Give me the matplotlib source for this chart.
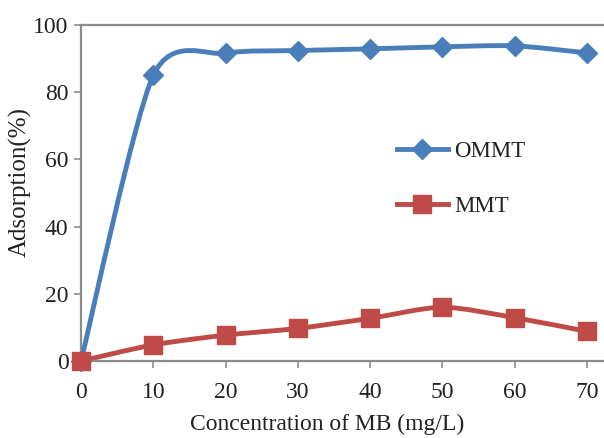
import numpy as np
import matplotlib
matplotlib.use("Agg")
import matplotlib.pyplot as plt
from matplotlib.path import Path
from matplotlib.patches import PathPatch
from matplotlib.lines import Line2D

# MB concentration (mg/L) and adsorption (%)
conc = [0, 10, 20, 30, 40, 50, 60, 70]
ommt = [0, 85.0, 91.6, 92.4, 92.9, 93.5, 93.8, 91.7]
mmt = [0, 4.8, 7.7, 9.7, 12.7, 16.0, 12.9, 8.8]

series_names = ["OMMT", "MMT"]
xticks = [0, 10, 20, 30, 40, 50, 60, 70]
yticks = [0, 20, 40, 60, 80, 100]

BLUE = "#4a7ebb"
RED = "#be4b48"
SPINE = "#8c8c8c"
TEXT = "#222222"

plt.rcParams["font.family"] = ["Liberation Serif", "DejaVu Serif"]


def smooth_path(x, y, k=0.13):
    """Cardinal-spline cubic Bezier path through the points."""
    x = np.asarray(x, float)
    y = np.asarray(y, float)
    n = len(x)
    verts = [(x[0], y[0])]
    codes = [Path.MOVETO]
    for i in range(n - 1):
        p0 = np.array([x[max(i - 1, 0)], y[max(i - 1, 0)]])
        p1 = np.array([x[i], y[i]])
        p2 = np.array([x[i + 1], y[i + 1]])
        p3 = np.array([x[min(i + 2, n - 1)], y[min(i + 2, n - 1)]])
        c1 = p1 + (p2 - p0) * k
        c2 = p2 - (p3 - p1) * k
        verts += [tuple(c1), tuple(c2), tuple(p2)]
        codes += [Path.CURVE4] * 3
    return Path(verts, codes)


fig = plt.figure(figsize=(6.04, 4.38), dpi=100)
ax = fig.add_axes([81 / 604, 77 / 438, 523 / 604, 336 / 438])

for ys, color, marker, ms in [(ommt, BLUE, "D", 10.5), (mmt, RED, "s", 13)]:
    patch = PathPatch(smooth_path(conc, ys), facecolor="none", edgecolor=color,
                      lw=3.5, capstyle="round", joinstyle="round", zorder=2)
    ax.add_patch(patch)
    ax.plot(conc, ys, linestyle="none", marker=marker, markersize=ms,
            color=color, zorder=3, clip_on=False)

ax.set_xlim(0, 72.35)
ax.set_ylim(0, 100)
ax.set_xticks(xticks)
ax.set_yticks(yticks)
ax.tick_params(axis="both", labelsize=17, labelcolor=TEXT, color=SPINE,
               length=5, width=1.2, direction="out")
ax.tick_params(axis="x", pad=10)
ax.tick_params(axis="y", pad=4)

for side in ["left", "top", "bottom"]:
    ax.spines[side].set_color(SPINE)
    ax.spines[side].set_linewidth(1.6)
ax.spines["right"].set_visible(False)

ax.set_xlabel("Concentration of MB (mg/L)", fontsize=17, color=TEXT)
ax.set_ylabel("Adsorption(%)", fontsize=18, color=TEXT)
ax.xaxis.set_label_coords(0.471, -0.158)
ax.yaxis.set_label_coords(-0.095, 0.534)

handles = [
    Line2D([], [], color=BLUE, lw=3.5, marker="D", markersize=10.5),
    Line2D([], [], color=RED, lw=3.5, marker="s", markersize=13),
]
leg = ax.legend(handles, series_names, loc="upper left",
                bbox_to_anchor=(0.565, 0.715), frameon=False, fontsize=16.5,
                handlelength=2.2, labelspacing=1.45, handletextpad=0.3)
for t in leg.get_texts():
    t.set_color(TEXT)

fig.savefig("out.png", dpi=100)
